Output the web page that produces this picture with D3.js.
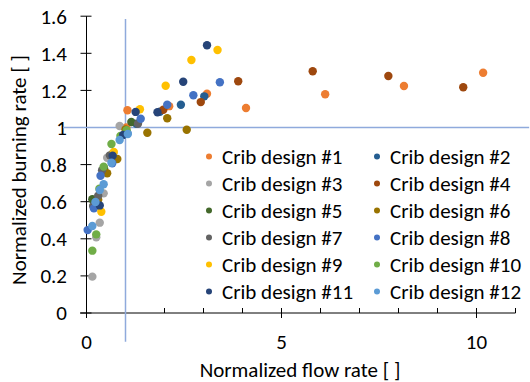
<!DOCTYPE html>
<html><head><meta charset="utf-8">
<script src="https://cdn.jsdelivr.net/npm/d3@7"></script>
<style>body{margin:0;background:#fff}svg{display:block}text{font-family:Carlito,Calibri,Lato,sans-serif;fill:#000}</style>
</head><body><div id="chart"></div>
<script>
const seriesNames = ["Crib design #1","Crib design #2","Crib design #3","Crib design #4","Crib design #5","Crib design #6","Crib design #7","Crib design #8","Crib design #9","Crib design #10","Crib design #11","Crib design #12"];
const seriesColors = ["#ED7D31","#255E91","#A5A5A5","#9E480E","#43682B","#997300","#636363","#4472C4","#FFC000","#70AD47","#264478","#5B9BD5"];
const s1 = [[1.05,1.093],[1.02,1.0],[2.12,1.115],[3.09,1.182],[4.09,1.105],[6.12,1.179],[8.14,1.224],[10.17,1.295]];
const s2 = [[3.02,1.168],[2.42,1.123],[1.88,1.085],[1.28,1.02],[0.68,0.86]];
const s3 = [[0.85,1.008],[0.53,0.837],[0.44,0.645],[0.34,0.487],[0.25,0.408],[0.15,0.196]];
const s4 = [[1.97,1.096],[2.93,1.137],[3.89,1.249],[5.80,1.303],[7.74,1.278],[9.66,1.217]];
const s5 = [[1.15,1.03],[0.15,0.613],[0.45,0.78]];
const s6 = [[1.56,0.972],[2.07,1.05],[2.57,0.988],[0.79,0.83],[0.53,0.753],[0.30,0.61],[1.0,0.99]];
const s7 = [[1.32,1.02],[0.40,0.77],[0.30,0.632],[0.17,0.577],[0.6,0.85]];
const s8 = [[1.39,1.047],[2.07,1.123],[2.74,1.174],[3.42,1.244],[0.66,0.807],[0.36,0.74],[0.19,0.564],[0.03,0.447],[1.05,0.97]];
const s9 = [[1.37,1.098],[2.03,1.225],[2.69,1.364],[3.36,1.418],[0.70,0.868],[0.38,0.546]];
const s10 = [[1.03,0.986],[0.87,0.954],[0.64,0.911],[0.44,0.789],[0.33,0.67],[0.25,0.424],[0.15,0.336]];
const s11 = [[1.26,1.084],[1.82,1.082],[2.48,1.247],[3.09,1.443],[0.94,0.96],[0.67,0.848],[0.34,0.58]];
const s12 = [[1.06,0.965],[0.85,0.933],[0.64,0.81],[0.44,0.694],[0.34,0.663],[0.23,0.598],[0.15,0.469]];
const seriesData = [s1,s2,s3,s4,s5,s6,s7,s8,s9,s10,s11,s12];
const xTicks = [0,5,10];
const xMinorTicks = [1,2,3,4,6,7,8,9,11];
const yTicks = [0,0.2,0.4,0.6,0.8,1,1.2,1.4,1.6];
const refX = 1, refY = 1;
const refHLineX = [-0.6, 11.35];
const refVLineY = [-0.155, 1.585];
const xTitle = "Normalized flow rate [ ]";
const yTitle = "Normalized burning rate [ ]";

const W = 530, H = 382;
const svg = d3.select("#chart").append("svg").attr("width", W).attr("height", H);
const x = d3.scaleLinear().domain([0, 11]).range([86.5, 515.5]);
const y = d3.scaleLinear().domain([0, 1.6]).range([313, 16.2]);
const FS = 21;

// axes
const xAxis = svg.append("g").attr("transform", `translate(0,${y(0)})`);
xAxis.append("line").attr("x1", 80).attr("x2", x(11)).attr("stroke", "#000").attr("stroke-width", 1);
xAxis.selectAll("line.maj").data(xTicks).join("line").attr("class","maj")
  .attr("x1", d => x(d)).attr("x2", d => x(d)).attr("y1", -5).attr("y2", 5).attr("stroke", "#000");
xAxis.selectAll("line.min").data(xMinorTicks).join("line").attr("class","min")
  .attr("x1", d => x(d)).attr("x2", d => x(d)).attr("y1", -5).attr("y2", 0).attr("stroke", "#000");
xAxis.selectAll("text").data(xTicks).join("text")
  .attr("x", d => x(d)).attr("y", 36).attr("text-anchor", "middle").attr("font-size", FS).text(d => d);

const yAxis = svg.append("g");
yAxis.append("line").attr("x1", x(0)).attr("x2", x(0)).attr("y1", y(1.6)).attr("y2", y(0) + 5).attr("stroke", "#000");
yAxis.selectAll("line.t").data(yTicks).join("line").attr("class","t")
  .attr("x1", x(0) - 6).attr("x2", x(0) + 5).attr("y1", d => y(d)).attr("y2", d => y(d)).attr("stroke", "#000");
yAxis.selectAll("text").data(yTicks).join("text")
  .attr("x", 67).attr("y", d => y(d)).attr("dy", "0.35em").attr("text-anchor", "end").attr("font-size", FS)
  .text(d => d3.format("~g")(d));

// reference lines
svg.append("line").attr("x1", x(refHLineX[0])).attr("x2", x(refHLineX[1])).attr("y1", y(refY)).attr("y2", y(refY))
  .attr("stroke", "#8FAADC").attr("stroke-width", 1.5);
svg.append("line").attr("x1", x(refX)).attr("x2", x(refX)).attr("y1", y(refVLineY[1])).attr("y2", y(refVLineY[0]))
  .attr("stroke", "#8FAADC").attr("stroke-width", 1.5);

// points
seriesData.forEach((data, i) => {
  svg.append("g").selectAll("circle").data(data).join("circle")
    .attr("cx", d => x(d[0])).attr("cy", d => y(d[1])).attr("r", 4.2)
    .attr("fill", seriesColors[i]);
});

// legend
const leg = svg.append("g");
seriesNames.forEach((name, i) => {
  const col = i % 2, row = Math.floor(i / 2);
  const lx = col === 0 ? 209 : 377;
  const ly = 156.5 + row * 27;
  leg.append("circle").attr("cx", lx).attr("cy", ly).attr("r", 3).attr("fill", seriesColors[i]);
  leg.append("text").attr("x", lx + 13).attr("y", ly).attr("dy", "0.35em").attr("font-size", FS).text(name);
});

// titles
svg.append("text").attr("x", 300).attr("y", 377).attr("text-anchor", "middle").attr("font-size", FS).text(xTitle);
svg.append("text").attr("transform", `translate(26,170) rotate(-90)`).attr("text-anchor", "middle").attr("font-size", FS).text(yTitle);
</script></body></html>
